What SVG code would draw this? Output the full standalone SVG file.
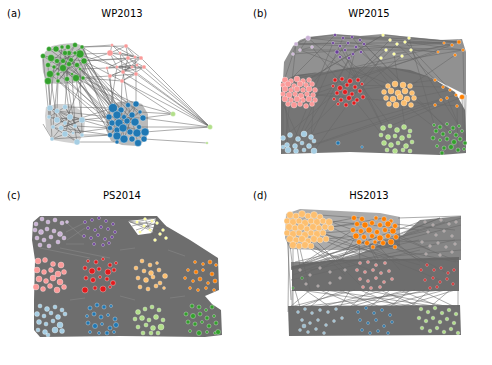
<svg xmlns="http://www.w3.org/2000/svg" width="492" height="365" viewBox="0 0 492 365">
<style>
.e{stroke:#666;stroke-width:0.6;fill:none;stroke-opacity:0.9}
.el{stroke:#8c8c8c;stroke-width:0.5;fill:none}
.d{fill:#666}
.t{font-family:"DejaVu Sans",sans-serif;font-size:10px;fill:#000}
circle{stroke:#fff;stroke-width:0.4;stroke-opacity:0.8}
.lb{fill:#a6cee3}.b{fill:#1f78b4}.lg{fill:#b2df8a}.g{fill:#33a02c}.pk{fill:#fb9a99}.r{fill:#e31a1c}.lo{fill:#fdbf6f}.o{fill:#ff7f00}.lp{fill:#cab2d6}.p{fill:#6a3d9a}.y{fill:#ffff99}.gy{fill:#a89a9a}
</style>
<rect width="492" height="365" fill="#fff"/>
<g id="labels">
<text class="t" x="7" y="16.5">(a)</text>
<text class="t" x="122" y="16.5" text-anchor="middle">WP2013</text>
<text class="t" x="253" y="16.5">(b)</text>
<text class="t" x="369" y="16.5" text-anchor="middle">WP2015</text>
<text class="t" x="7" y="198.5">(c)</text>
<text class="t" x="122" y="198.5" text-anchor="middle">PS2014</text>
<text class="t" x="253" y="198.5">(d)</text>
<text class="t" x="369" y="198.5" text-anchor="middle">HS2013</text>
</g>
<g id="connectors">
<!-- panel a -->
<polygon class="d" opacity="0.4" points="45,52 52,46 62,44 74,43 84,46 87,56 86,68 84,79 74,83 60,84 47,83 43,72 42,60"/>
<polygon class="d" opacity="0.3" points="46,107 56,104 70,104 80,110 85,120 84,132 78,144 64,142 53,140 46,128 45,116"/>
<polygon class="d" opacity="0.45" points="109,106 118,102 132,101 142,104 148,114 148,130 146,140 137,146 122,145 111,141 106,130 107,116"/>
<path class="e" d="M49,49L75,53M56,49L80,69M62,47L58,74M68,47L48,65M75,45L63,68M82,47L54,67M43,56L84,61M51,58L77,65M57,61L80,54M63,61L48,81M69,53L67,79M71,60L50,74M80,54L58,81M84,61L72,74M48,65L83,78M54,67L76,78M63,68L82,47M69,64L49,49M77,65L56,49M80,69L62,47M50,74L75,45M58,74L84,61M67,79L65,53M76,78L51,58M83,78L57,61M48,81L71,60M58,81L80,54M72,74L43,56
M84,61L113,108M80,54L121,110M76,78L128,105M83,78L136,104M72,74L109,117M77,65L117,115M80,69L124,117M84,61L132,115M67,79L112,123M63,68L119,123M58,81L110,128M69,64L127,121M75,53L117,130M82,47L123,128M71,60L110,135M76,78L117,136M80,69L140,112M63,61L113,108M58,74L109,117M50,74L112,123M83,78L130,132M84,61L143,118M72,74L124,139M65,53L121,110M77,65L135,122M82,47L117,115M80,54L110,128M84,61L119,123
M48,81L50,108M58,81L57,111M67,79L65,107M54,67L49,117M76,78L82,120M50,74L57,120M63,68L70,117M72,74L75,126M83,78L65,123M58,74L53,127M48,65L52,139M80,69L82,135M43,56L49,117M67,79L77,142
M84,61L110,53M82,47L112,45M80,54L120,53M84,61L128,58M75,53L117,67M83,78L122,81M76,78L110,76M80,69L107,68M82,47L126,46M84,61L141,58
M110,53L126,46M112,45L120,53M120,53L135,57M126,46L141,58M128,58L144,67M117,67L136,74M110,76L132,67M123,72L141,58M107,68L137,65M122,81L128,58M110,53L117,67M120,53L123,72M135,57L136,74M144,67L122,81M132,67L110,76M137,65L117,67M126,46L128,58M110,53L141,58M107,68L144,67M112,45L135,57M123,72L144,67M117,67L141,58M120,53L132,67M107,68L128,58M110,76L136,74M122,81L136,74M112,45L110,53M126,46L135,57M120,53L141,58M117,67L144,67M123,72L137,65
M110,53L210,127M128,58L210,127M144,67L210,127M136,74L210,127M141,58L210,127M122,81L173,114M84,61L210,127M82,47L210,127
M110,76L113,108M122,81L121,110M117,67L109,117M136,74L136,104M123,72L128,105M107,68L117,115
M143,118L173,114M140,112L173,114M145,132L210,127M144,139L207,143M139,127L210,127M136,104L173,114M143,118L210,127
M50,108L70,117M57,111L65,123M65,107L49,117M70,117L53,127M49,117L82,120M57,120L75,126M65,123L82,135M82,120L61,128M53,127L73,133M61,128L77,142M65,134L52,139M75,126L57,111M73,133L50,108M82,135L65,107M57,120L70,117M61,128L82,120M52,139L65,123M43,124L52,139M50,108L82,120M49,117L75,126M65,107L82,135M53,127L77,142M70,117L65,134
M82,120L109,117M75,126L110,128M65,107L113,108M70,117L112,123M82,135L110,135M77,142L117,142M73,133L110,128M57,111L109,117M61,128L110,135M82,120L117,130M65,123L113,108M52,139L110,135
M113,108L135,122M121,110L110,128M128,105L117,136M136,104L124,139M109,117L143,118M117,115L139,127M124,117L110,135M132,115L117,142M140,112L119,123M112,123L145,132M119,123L137,133M127,121L132,139M135,122L112,123M123,128L144,139M130,132L113,108M117,130L140,112M110,135L136,104M124,139L121,110M138,143L128,105"/>
<!-- panel b -->
<polygon class="d" opacity="0.72" points="293,46 300,40 308,37 335,34 360,36 383,34 409,37 440,40 462,39 466,52 466,95 432,78 380,66 320,72 283,80 284,62"/>
<polygon class="d" opacity="0.9" points="281,82 296,75 320,72 350,68 380,66 410,70 432,78 455,92 465,110 466,135 466,153 440,155 410,154 350,152 281,154 281,120"/>
<path class="e" d="M335,35L285,85M343,38L298,139M352,37L400,97M360,40L450,132M333,43L290,150M340,46L383,128M348,43L303,94M356,47L345,92M364,44L412,93M337,52L443,134M345,50L388,137M353,54L295,146M361,52L460,139M340,57L410,151M349,58L304,150
M383,35L291,90M390,40L337,93M397,44L304,134M405,42L455,95M411,50L462,131M386,50L283,138M394,54L405,127M402,56L349,98M381,58L314,151M409,38L436,131M383,35L300,84M397,44L443,87
M308,38L358,80M296,44L285,147M300,50L412,93M312,47L395,151M293,54L283,84M308,38L438,52M296,44L459,42
M459,42L335,35M452,45L394,54M444,43L352,37M463,50L405,42M455,55L410,86M438,52L315,89M459,42L383,35M463,50L465,143M452,45L298,100
M435,80L288,99M443,87L347,85M450,90L407,99M456,95L298,139M462,97L390,126M441,100L309,146M435,105L296,151M457,106L303,94M447,98L459,126
M293,54L459,42M308,38L409,38M296,44L463,50M285,80L463,50M283,84L459,42M300,50L411,50M343,38L444,43
M283,84L283,138M285,89L288,150M283,94L290,135M315,89L311,137M283,104L304,150M466,95L465,143M462,97L464,149M457,106L458,150
M308,38L300,50M308,38L296,44M296,44L293,54M312,47L300,50M308,38L335,35M296,44L333,43M409,38L459,42M411,50L438,52M405,42L452,45M397,44L444,43"/>
<!-- panel c -->
<polygon class="d" opacity="0.95" points="33,222 40,216 110,216 157,216 166,226 190,240 218,258 219,290 205,296 212,304 221,310 222,335 205,337 120,336 40,337 34,330 34,300 35,260 32,240"/>
<polygon fill="#fff" points="128,221 156,218 152,233 138,235"/>
<path class="e" d="M128,221L166,226M130,222L163,230M135,222L156,218M140,232L157,218M128,221L150,230M145,219L155,240M137,222L160,234M120,218L157,218M132,226L152,221M136,230L157,223"/>
<path class="el" d="M68,224L84,238M66,232L86,222M67,240L85,228M40,248L90,258M60,248L110,258M70,300L85,298M120,296L135,300M170,298L185,296M120,250L135,248M168,250L185,256M66,244L84,244"/>
<!-- panel d -->
<polygon class="d" opacity="0.55" points="286,214 300,209 340,211 380,213 400,217 400,246 360,250 320,250 290,249 285,238"/>
<polygon class="d" opacity="0.8" points="291,270 356,255 403,235 420,220 461,216 461,260 291,262"/>
<polygon class="d" opacity="0.95" points="292,266 330,260 400,259 459,257 459,291 292,291"/>
<polygon class="d" opacity="0.95" points="288,306 460,305 461,335 289,336"/>
<path class="e" d="M333,222L354,218M331,227L357,224M329,221L353,230M326,239L356,236M320,215L362,218M323,233L361,230M331,227L384,218M398,218L461,216M396,236L440,218M395,224L455,230M391,242L461,240M388,230L430,250
M290,245L292,262M293,245L293,310M296,239L300,268M305,245L330,262M311,245L350,265M320,239L380,262M326,239L420,265M299,245L310,290M287,233L291,300M289,227L288,312M331,227L400,262M323,233L440,280M314,239L360,285M308,239L345,275M305,245L370,270M317,233L456,262M329,221L419,230
M359,242L360,262M367,242L380,268M375,242L400,270M383,242L430,265M391,242L450,275M356,236L340,262M364,242L320,270M373,247L300,275M395,236L459,262M388,236L420,262M380,236L310,262M369,230L295,268M353,230L305,262M361,230L380,262
M295,290L300,307M305,290L330,307M310,290L290,307M320,290L360,307M330,290L310,307M340,290L380,307M350,290L340,307M360,290L400,307M370,290L350,307M380,290L420,307M390,290L370,307M400,290L440,307M410,290L390,307M420,290L455,307M430,290L410,307M440,290L300,307M450,290L430,307M458,290L458,307M300,290L420,307M325,290L440,307M345,290L300,307M365,290L450,307M385,290L320,307M405,290L350,307M425,290L360,307M445,290L380,307M355,290L290,307M415,290L330,307M292,290L292,307M455,290L400,307
M291,268L419,222M293,275L440,218M300,266L461,225M310,270L455,240M295,262L430,230M320,262L461,218M340,258L419,240M291,280L420,250M305,265L445,222M350,260L461,250"/>
</g>
<g id="panel-a-nodes">
<g id="a-green" class="g">
<circle cx="43" cy="56" r="2.5"/><circle cx="49" cy="49" r="2.5"/><circle cx="56" cy="49" r="3"/><circle cx="62" cy="47" r="2"/><circle cx="68" cy="47" r="2.5"/><circle cx="75" cy="45" r="2.5"/><circle cx="82" cy="47" r="2"/><circle cx="80" cy="54" r="4"/><circle cx="51" cy="58" r="3.5"/><circle cx="57" cy="61" r="2.5"/><circle cx="63" cy="61" r="2.5"/><circle cx="69" cy="53" r="2.5"/><circle cx="75" cy="53" r="2"/><circle cx="71" cy="60" r="2.5"/><circle cx="84" cy="61" r="3"/><circle cx="48" cy="65" r="2.5"/><circle cx="54" cy="67" r="2"/><circle cx="63" cy="68" r="3.5"/><circle cx="69" cy="64" r="2.5"/><circle cx="77" cy="65" r="2.5"/><circle cx="80" cy="69" r="1.5"/><circle cx="50" cy="74" r="3.5"/><circle cx="58" cy="74" r="2"/><circle cx="67" cy="79" r="2.5"/><circle cx="76" cy="78" r="3.5"/><circle cx="83" cy="78" r="2"/><circle cx="48" cy="81" r="3.5"/><circle cx="58" cy="81" r="2"/><circle cx="72" cy="74" r="1.5"/><circle cx="65" cy="53" r="2.5"/>
</g>
<g id="a-pink" class="pk">
<circle cx="110" cy="53" r="3"/><circle cx="112" cy="45" r="1.5"/><circle cx="126" cy="46" r="2"/><circle cx="120" cy="53" r="1.5"/><circle cx="128" cy="58" r="2"/><circle cx="135" cy="57" r="1.5"/><circle cx="141" cy="58" r="2"/><circle cx="144" cy="67" r="2"/><circle cx="136" cy="74" r="2"/><circle cx="123" cy="72" r="2"/><circle cx="117" cy="67" r="1.5"/><circle cx="110" cy="76" r="2"/><circle cx="122" cy="81" r="2"/><circle cx="107" cy="68" r="1.5"/><circle cx="132" cy="67" r="1.5"/><circle cx="137" cy="65" r="1.5"/>
</g>
<g id="a-lightblue" class="lb">
<circle cx="50" cy="108" r="3"/><circle cx="57" cy="111" r="2.5"/><circle cx="65" cy="107" r="2.5"/><circle cx="70" cy="117" r="3"/><circle cx="49" cy="117" r="2"/><circle cx="57" cy="120" r="3"/><circle cx="65" cy="123" r="2"/><circle cx="82" cy="120" r="3"/><circle cx="75" cy="126" r="2"/><circle cx="53" cy="127" r="2"/><circle cx="61" cy="128" r="2.5"/><circle cx="65" cy="134" r="3"/><circle cx="52" cy="139" r="2"/><circle cx="77" cy="142" r="3"/><circle cx="82" cy="135" r="2"/><circle cx="73" cy="133" r="1.5"/>
</g>
<g id="a-blue" class="b">
<circle cx="113" cy="108" r="4.5"/><circle cx="121" cy="110" r="3"/><circle cx="128" cy="105" r="2.5"/><circle cx="136" cy="104" r="3"/><circle cx="109" cy="117" r="3"/><circle cx="117" cy="115" r="4"/><circle cx="124" cy="117" r="2.5"/><circle cx="132" cy="115" r="3"/><circle cx="140" cy="112" r="2"/><circle cx="143" cy="118" r="3"/><circle cx="112" cy="123" r="3"/><circle cx="119" cy="123" r="4"/><circle cx="127" cy="121" r="3"/><circle cx="135" cy="122" r="4"/><circle cx="139" cy="127" r="2.5"/><circle cx="110" cy="128" r="2.5"/><circle cx="117" cy="130" r="3"/><circle cx="123" cy="128" r="4"/><circle cx="130" cy="132" r="3"/><circle cx="137" cy="133" r="4"/><circle cx="145" cy="132" r="4"/><circle cx="110" cy="135" r="2.5"/><circle cx="117" cy="136" r="4"/><circle cx="124" cy="139" r="4"/><circle cx="132" cy="139" r="3"/><circle cx="138" cy="143" r="3.5"/><circle cx="144" cy="139" r="3"/><circle cx="117" cy="142" r="2"/>
</g>
<g id="a-lightgreen" class="lg">
<circle cx="173" cy="114" r="2.5"/><circle cx="210" cy="127" r="2.5"/><circle cx="207" cy="143" r="1.3"/>
</g>
</g>
<g id="panel-b-nodes">
<g id="b-pink" class="pk">
<circle cx="285" cy="80" r="3"/><circle cx="291" cy="81" r="2.5"/><circle cx="297" cy="79" r="3"/><circle cx="303" cy="81" r="2.5"/><circle cx="309" cy="80" r="2.5"/>
<circle cx="283" cy="85" r="2.5"/><circle cx="288" cy="84" r="3"/><circle cx="294" cy="86" r="2.5"/><circle cx="300" cy="84" r="3"/><circle cx="306" cy="85" r="2.5"/><circle cx="312" cy="84" r="2.5"/>
<circle cx="285" cy="89" r="3"/><circle cx="291" cy="90" r="2.5"/><circle cx="297" cy="89" r="3"/><circle cx="303" cy="90" r="2.5"/><circle cx="309" cy="89" r="3"/><circle cx="315" cy="90" r="2.5"/>
<circle cx="283" cy="94" r="2.5"/><circle cx="289" cy="95" r="3"/><circle cx="295" cy="94" r="2.5"/><circle cx="301" cy="96" r="3"/><circle cx="307" cy="94" r="2.5"/><circle cx="313" cy="95" r="2.5"/>
<circle cx="285" cy="99" r="3"/><circle cx="291" cy="100" r="2.5"/><circle cx="297" cy="99" r="3"/><circle cx="303" cy="100" r="2.5"/><circle cx="309" cy="99" r="3"/><circle cx="315" cy="100" r="2.5"/>
<circle cx="288" cy="104" r="2.5"/><circle cx="294" cy="105" r="3"/><circle cx="300" cy="104" r="2.5"/><circle cx="306" cy="106" r="2.5"/><circle cx="312" cy="104" r="2.5"/>
</g>
<g id="b-red" class="r">
<circle cx="335" cy="80" r="2"/><circle cx="342" cy="79" r="2"/><circle cx="350" cy="81" r="2.5"/><circle cx="358" cy="80" r="2"/><circle cx="333" cy="86" r="1.5"/><circle cx="340" cy="88" r="2.5"/><circle cx="347" cy="85" r="2"/><circle cx="355" cy="87" r="2"/><circle cx="362" cy="84" r="1.5"/><circle cx="337" cy="93" r="2"/><circle cx="345" cy="92" r="2.5"/><circle cx="352" cy="94" r="2"/><circle cx="360" cy="91" r="2"/><circle cx="334" cy="99" r="1.5"/><circle cx="341" cy="100" r="2"/><circle cx="349" cy="98" r="2.5"/><circle cx="357" cy="100" r="2"/><circle cx="363" cy="97" r="2"/><circle cx="338" cy="104" r="1.5"/><circle cx="346" cy="105" r="2"/><circle cx="354" cy="103" r="2"/>
</g>
<g id="b-lightorange" class="lo">
<circle cx="388" cy="86" r="2.5"/><circle cx="395" cy="84" r="3"/><circle cx="403" cy="85" r="3"/><circle cx="410" cy="86" r="2.5"/><circle cx="384" cy="92" r="2.5"/><circle cx="391" cy="91" r="3"/><circle cx="398" cy="93" r="3"/><circle cx="405" cy="91" r="3"/><circle cx="412" cy="93" r="2.5"/><circle cx="386" cy="98" r="2.5"/><circle cx="393" cy="99" r="3"/><circle cx="400" cy="97" r="3"/><circle cx="407" cy="99" r="3"/><circle cx="414" cy="98" r="2.5"/><circle cx="389" cy="104" r="2.5"/><circle cx="396" cy="105" r="3"/><circle cx="404" cy="103" r="3"/><circle cx="411" cy="105" r="2.5"/>
</g>
<g id="b-lightblue" class="lb">
<circle cx="283" cy="138" r="2.5"/><circle cx="290" cy="135" r="2.5"/><circle cx="298" cy="139" r="2.5"/><circle cx="304" cy="134" r="3"/><circle cx="311" cy="137" r="2.5"/><circle cx="287" cy="145" r="2.5"/><circle cx="295" cy="146" r="2.5"/><circle cx="302" cy="143" r="2"/><circle cx="309" cy="146" r="2.5"/><circle cx="314" cy="141" r="2"/><circle cx="288" cy="150" r="3"/><circle cx="296" cy="151" r="2.5"/><circle cx="304" cy="150" r="2"/><circle cx="314" cy="151" r="3"/><circle cx="283" cy="147" r="2"/>
</g>
<g id="b-blue" class="b"><circle cx="338" cy="143" r="2"/><circle cx="362" cy="147" r="1.3"/></g>
<g id="b-lightgreen" class="lg">
<circle cx="383" cy="128" r="2.5"/><circle cx="390" cy="126" r="2"/><circle cx="397" cy="130" r="2.5"/><circle cx="404" cy="127" r="2.5"/><circle cx="410" cy="131" r="2"/><circle cx="381" cy="135" r="2"/><circle cx="388" cy="137" r="2.5"/><circle cx="395" cy="136" r="2"/><circle cx="402" cy="138" r="2.5"/><circle cx="409" cy="136" r="2"/><circle cx="384" cy="143" r="2.5"/><circle cx="391" cy="145" r="2.5"/><circle cx="398" cy="143" r="2"/><circle cx="406" cy="146" r="2.5"/><circle cx="412" cy="142" r="2"/><circle cx="387" cy="150" r="2"/><circle cx="395" cy="151" r="2.5"/><circle cx="403" cy="150" r="2"/><circle cx="410" cy="151" r="2"/>
</g>
<g id="b-green" class="g">
<circle cx="434" cy="125" r="1.5"/><circle cx="440" cy="127" r="2"/><circle cx="447" cy="124" r="1.5"/><circle cx="453" cy="128" r="2"/><circle cx="459" cy="126" r="1.5"/><circle cx="436" cy="131" r="2"/><circle cx="443" cy="134" r="2"/><circle cx="450" cy="132" r="1.5"/><circle cx="456" cy="135" r="2"/><circle cx="462" cy="131" r="1.5"/><circle cx="433" cy="138" r="2"/><circle cx="440" cy="140" r="1.5"/><circle cx="447" cy="139" r="2"/><circle cx="454" cy="142" r="2.5"/><circle cx="460" cy="139" r="2"/><circle cx="465" cy="143" r="2"/><circle cx="437" cy="146" r="1.5"/><circle cx="444" cy="148" r="2"/><circle cx="451" cy="147" r="2.5"/><circle cx="458" cy="150" r="2"/><circle cx="464" cy="149" r="1.5"/><circle cx="442" cy="153" r="2"/>
</g>
<g id="b-purple" class="p">
<circle cx="335" cy="35" r="1.5"/><circle cx="343" cy="38" r="1.5"/><circle cx="352" cy="37" r="1.5"/><circle cx="360" cy="40" r="1.5"/><circle cx="333" cy="43" r="1.5"/><circle cx="340" cy="46" r="1.5"/><circle cx="348" cy="43" r="1.5"/><circle cx="356" cy="47" r="1.5"/><circle cx="364" cy="44" r="1.5"/><circle cx="337" cy="52" r="2"/><circle cx="345" cy="50" r="1.5"/><circle cx="353" cy="54" r="1.5"/><circle cx="361" cy="52" r="1.5"/><circle cx="340" cy="57" r="1.5"/><circle cx="349" cy="58" r="1.5"/>
</g>
<g id="b-lightpurple" class="lp"><circle cx="308" cy="38" r="2.5"/><circle cx="296" cy="44" r="2"/><circle cx="300" cy="50" r="1.5"/><circle cx="312" cy="47" r="1.5"/><circle cx="293" cy="54" r="1.5"/></g>
<g id="b-yellow" class="y">
<circle cx="383" cy="35" r="1.5"/><circle cx="390" cy="40" r="1.5"/><circle cx="397" cy="44" r="1.5"/><circle cx="405" cy="42" r="1.5"/><circle cx="411" cy="50" r="1.5"/><circle cx="386" cy="50" r="1.5"/><circle cx="394" cy="54" r="1.5"/><circle cx="402" cy="56" r="1.5"/><circle cx="381" cy="58" r="1.5"/><circle cx="409" cy="38" r="1.5"/>
</g>
<g id="b-orange" class="o">
<circle cx="459" cy="42" r="2"/><circle cx="452" cy="45" r="1.5"/><circle cx="444" cy="43" r="1.3"/><circle cx="463" cy="50" r="1.5"/><circle cx="455" cy="55" r="1.5"/><circle cx="438" cy="52" r="1.3"/><circle cx="435" cy="80" r="1.5"/><circle cx="443" cy="87" r="1.5"/><circle cx="450" cy="90" r="1.5"/><circle cx="456" cy="95" r="1.5"/><circle cx="462" cy="97" r="2.5"/><circle cx="441" cy="100" r="1.5"/><circle cx="435" cy="105" r="1.5"/><circle cx="457" cy="106" r="1.5"/><circle cx="447" cy="98" r="1.5"/>
</g>
</g>
<g id="panel-c-nodes">
<g id="c-lightpurple" class="lp">
<circle cx="36" cy="224" r="2"/><circle cx="42" cy="219" r="2"/><circle cx="48" cy="222" r="2"/><circle cx="55" cy="220" r="2"/><circle cx="62" cy="223" r="2"/><circle cx="35" cy="230" r="2"/><circle cx="41" cy="232" r="2.5"/><circle cx="47" cy="229" r="2"/><circle cx="54" cy="231" r="2"/><circle cx="60" cy="234" r="2.5"/><circle cx="37" cy="238" r="2"/><circle cx="44" cy="240" r="2"/><circle cx="51" cy="237" r="2"/><circle cx="58" cy="242" r="2"/><circle cx="64" cy="238" r="2"/><circle cx="40" cy="245" r="2"/><circle cx="49" cy="246" r="2"/><circle cx="67" cy="222" r="1.5"/>
</g>
<g id="c-purple" class="p">
<circle cx="85" cy="222" r="1.5"/><circle cx="92" cy="220" r="1.5"/><circle cx="99" cy="218" r="1.5"/><circle cx="106" cy="221" r="1.5"/><circle cx="113" cy="224" r="1.5"/><circle cx="88" cy="228" r="1.5"/><circle cx="95" cy="230" r="1.5"/><circle cx="101" cy="227" r="1.5"/><circle cx="108" cy="229" r="1.5"/><circle cx="115" cy="232" r="1.5"/><circle cx="84" cy="236" r="1.5"/><circle cx="91" cy="238" r="1.5"/><circle cx="98" cy="235" r="1.5"/><circle cx="105" cy="239" r="1.5"/><circle cx="112" cy="237" r="1.5"/><circle cx="94" cy="244" r="1.5"/><circle cx="103" cy="245" r="1.5"/><circle cx="109" cy="243" r="1.5"/>
</g>
<g id="c-yellow" class="y">
<circle cx="137" cy="222" r="1.5"/><circle cx="144" cy="226" r="1.5"/><circle cx="150" cy="230" r="1.5"/><circle cx="157" cy="223" r="1.5"/><circle cx="163" cy="230" r="1.5"/><circle cx="155" cy="240" r="1.5"/><circle cx="160" cy="234" r="1.5"/><circle cx="152" cy="221" r="1.5"/><circle cx="145" cy="219" r="1.5"/><circle cx="140" cy="232" r="1.5"/><circle cx="166" cy="238" r="1.5"/>
</g>
<g id="c-pink" class="pk">
<circle cx="38" cy="261" r="3"/><circle cx="45" cy="260" r="2.5"/><circle cx="53" cy="264" r="2.5"/><circle cx="61" cy="265" r="3"/><circle cx="37" cy="270" r="3"/><circle cx="44" cy="272" r="2.5"/><circle cx="51" cy="270" r="2.5"/><circle cx="58" cy="274" r="3"/><circle cx="64" cy="272" r="2.5"/><circle cx="39" cy="279" r="3"/><circle cx="46" cy="281" r="2.5"/><circle cx="53" cy="278" r="3"/><circle cx="60" cy="282" r="3"/><circle cx="36" cy="287" r="3"/><circle cx="43" cy="289" r="2.5"/><circle cx="50" cy="286" r="2.5"/><circle cx="57" cy="290" r="3"/><circle cx="64" cy="287" r="2.5"/>
</g>
<g id="c-red" class="r">
<circle cx="88" cy="261" r="1.5"/><circle cx="96" cy="262" r="2"/><circle cx="103" cy="259" r="1.5"/><circle cx="110" cy="265" r="2"/><circle cx="116" cy="263" r="1.5"/><circle cx="85" cy="268" r="2"/><circle cx="92" cy="271" r="3"/><circle cx="99" cy="269" r="2"/><circle cx="108" cy="272" r="3"/><circle cx="114" cy="270" r="2"/><circle cx="86" cy="278" r="2"/><circle cx="93" cy="280" r="2.5"/><circle cx="100" cy="277" r="1.5"/><circle cx="107" cy="279" r="2"/><circle cx="113" cy="283" r="2.5"/><circle cx="85" cy="290" r="3"/><circle cx="95" cy="288" r="2"/><circle cx="103" cy="289" r="3"/><circle cx="110" cy="287" r="1.5"/>
</g>
<g id="c-lightorange" class="lo">
<circle cx="142" cy="261" r="2"/><circle cx="150" cy="265" r="2"/><circle cx="157" cy="263" r="1.5"/><circle cx="136" cy="268" r="2"/><circle cx="144" cy="271" r="2"/><circle cx="151" cy="273" r="2.5"/><circle cx="159" cy="270" r="2"/><circle cx="165" cy="276" r="2.5"/><circle cx="138" cy="278" r="2"/><circle cx="146" cy="280" r="2.5"/><circle cx="153" cy="277" r="2"/><circle cx="160" cy="283" r="2"/><circle cx="140" cy="287" r="2"/><circle cx="148" cy="289" r="2"/><circle cx="156" cy="286" r="2"/><circle cx="164" cy="288" r="1.5"/>
</g>
<g id="c-orange" class="o">
<circle cx="195" cy="262" r="1.5"/><circle cx="203" cy="264" r="1.5"/><circle cx="210" cy="262" r="2"/><circle cx="216" cy="265" r="1.5"/><circle cx="188" cy="270" r="1.5"/><circle cx="196" cy="272" r="2"/><circle cx="203" cy="270" r="1.5"/><circle cx="212" cy="274" r="2"/><circle cx="185" cy="278" r="1.5"/><circle cx="193" cy="281" r="1.5"/><circle cx="200" cy="279" r="2"/><circle cx="208" cy="283" r="1.5"/><circle cx="215" cy="281" r="2"/><circle cx="190" cy="288" r="1.5"/><circle cx="198" cy="290" r="1.5"/><circle cx="206" cy="288" r="1.5"/><circle cx="214" cy="290" r="1.5"/>
</g>
<g id="c-lightblue" class="lb">
<circle cx="40" cy="306" r="2"/><circle cx="47" cy="309" r="2.5"/><circle cx="55" cy="307" r="2"/><circle cx="62" cy="310" r="2"/><circle cx="37" cy="314" r="2.5"/><circle cx="44" cy="316" r="2"/><circle cx="51" cy="313" r="2"/><circle cx="58" cy="317" r="2.5"/><circle cx="65" cy="314" r="2"/><circle cx="39" cy="322" r="2.5"/><circle cx="46" cy="324" r="2"/><circle cx="53" cy="321" r="2"/><circle cx="60" cy="325" r="3"/><circle cx="38" cy="330" r="2"/><circle cx="45" cy="332" r="2.5"/><circle cx="55" cy="330" r="3"/><circle cx="62" cy="331" r="2.5"/><circle cx="48" cy="335" r="2"/>
</g>
<g id="c-blue" class="b">
<circle cx="90" cy="308" r="2"/><circle cx="97" cy="305" r="2"/><circle cx="104" cy="307" r="2"/><circle cx="111" cy="306" r="1.5"/><circle cx="87" cy="316" r="1.5"/><circle cx="94" cy="314" r="2"/><circle cx="101" cy="317" r="2"/><circle cx="108" cy="315" r="1.5"/><circle cx="115" cy="319" r="2"/><circle cx="88" cy="323" r="2"/><circle cx="95" cy="326" r="2.5"/><circle cx="102" cy="324" r="1.5"/><circle cx="110" cy="328" r="2"/><circle cx="116" cy="325" r="2.5"/><circle cx="90" cy="332" r="1.5"/><circle cx="99" cy="333" r="1.5"/><circle cx="107" cy="333" r="2"/><circle cx="114" cy="332" r="1.5"/>
</g>
<g id="c-lightgreen" class="lg">
<circle cx="138" cy="312" r="2.5"/><circle cx="145" cy="309" r="2"/><circle cx="152" cy="307" r="2"/><circle cx="159" cy="310" r="2"/><circle cx="135" cy="319" r="2"/><circle cx="142" cy="318" r="2.5"/><circle cx="149" cy="320" r="2"/><circle cx="156" cy="317" r="2.5"/><circle cx="163" cy="320" r="2"/><circle cx="138" cy="327" r="2"/><circle cx="146" cy="325" r="2"/><circle cx="153" cy="328" r="2.5"/><circle cx="161" cy="327" r="3"/><circle cx="143" cy="333" r="2"/><circle cx="151" cy="333" r="2"/><circle cx="158" cy="333" r="2"/>
</g>
<g id="c-green" class="g">
<circle cx="192" cy="306" r="2"/><circle cx="199" cy="307" r="2"/><circle cx="206" cy="310" r="1.5"/><circle cx="212" cy="307" r="2"/><circle cx="186" cy="314" r="2"/><circle cx="193" cy="316" r="2.5"/><circle cx="200" cy="314" r="2"/><circle cx="207" cy="318" r="2"/><circle cx="214" cy="316" r="1.5"/><circle cx="188" cy="322" r="2"/><circle cx="195" cy="324" r="2"/><circle cx="202" cy="322" r="1.5"/><circle cx="209" cy="326" r="2"/><circle cx="216" cy="323" r="2"/><circle cx="190" cy="331" r="1.5"/><circle cx="199" cy="333" r="2.5"/><circle cx="207" cy="332" r="1.5"/><circle cx="215" cy="333" r="1.5"/><circle cx="218" cy="332" r="2.5"/>
</g>
</g>
<g id="panel-d-nodes">
<g id="d-lightorange" class="lo">
<circle cx="290" cy="215" r="3.5"/><circle cx="296" cy="216" r="3"/><circle cx="302" cy="214" r="3.5"/><circle cx="308" cy="216" r="3"/><circle cx="314" cy="215" r="3.5"/><circle cx="320" cy="217" r="3"/>
<circle cx="287" cy="221" r="3"/><circle cx="293" cy="222" r="3.5"/><circle cx="299" cy="221" r="3"/><circle cx="305" cy="223" r="3.5"/><circle cx="311" cy="221" r="3"/><circle cx="317" cy="222" r="3.5"/><circle cx="323" cy="221" r="3"/><circle cx="329" cy="222" r="3.5"/>
<circle cx="289" cy="227" r="3.5"/><circle cx="295" cy="228" r="3"/><circle cx="301" cy="227" r="3.5"/><circle cx="307" cy="229" r="3"/><circle cx="313" cy="227" r="3.5"/><circle cx="319" cy="228" r="3"/><circle cx="325" cy="227" r="3"/><circle cx="331" cy="228" r="3"/>
<circle cx="287" cy="233" r="3"/><circle cx="293" cy="234" r="3.5"/><circle cx="299" cy="233" r="3"/><circle cx="305" cy="235" r="3.5"/><circle cx="311" cy="233" r="3"/><circle cx="317" cy="234" r="3.5"/><circle cx="323" cy="233" r="3"/>
<circle cx="290" cy="239" r="3.5"/><circle cx="296" cy="240" r="3"/><circle cx="302" cy="239" r="3.5"/><circle cx="308" cy="241" r="3"/><circle cx="314" cy="239" r="3.5"/><circle cx="320" cy="240" r="3"/><circle cx="326" cy="239" r="3"/>
<circle cx="293" cy="245" r="3.5"/><circle cx="299" cy="246" r="3"/><circle cx="305" cy="245" r="3.5"/><circle cx="311" cy="246" r="3"/>
</g>
<g id="d-orange" class="o">
<circle cx="354" cy="218" r="2.5"/><circle cx="362" cy="219" r="2.5"/><circle cx="376" cy="218" r="2"/><circle cx="384" cy="219" r="2.5"/><circle cx="391" cy="221" r="2"/>
<circle cx="357" cy="224" r="2.5"/><circle cx="365" cy="225" r="3"/><circle cx="372" cy="223" r="2.5"/><circle cx="380" cy="225" r="2.5"/><circle cx="388" cy="224" r="3"/><circle cx="395" cy="226" r="2.5"/>
<circle cx="353" cy="230" r="2.5"/><circle cx="361" cy="231" r="2.5"/><circle cx="369" cy="230" r="3"/><circle cx="377" cy="232" r="2.5"/><circle cx="385" cy="230" r="2.5"/><circle cx="393" cy="231" r="3"/>
<circle cx="356" cy="236" r="3"/><circle cx="364" cy="237" r="2.5"/><circle cx="372" cy="236" r="2.5"/><circle cx="380" cy="238" r="3"/><circle cx="388" cy="236" r="2.5"/><circle cx="396" cy="237" r="2.5"/>
<circle cx="359" cy="242" r="2.5"/><circle cx="367" cy="243" r="2.5"/><circle cx="375" cy="242" r="2"/><circle cx="383" cy="243" r="2.5"/><circle cx="391" cy="242" r="3"/><circle cx="373" cy="247" r="2"/><circle cx="395" cy="247" r="2"/>
</g>
<g id="d-grey" class="gy" opacity="0.85">
<circle cx="425" cy="222" r="1.3"/><circle cx="433" cy="225" r="1.3"/><circle cx="441" cy="220" r="1.3"/><circle cx="449" cy="224" r="1.3"/><circle cx="456" cy="222" r="1.3"/><circle cx="428" cy="232" r="1.3"/><circle cx="436" cy="235" r="1.3"/><circle cx="444" cy="231" r="1.3"/><circle cx="452" cy="236" r="1.3"/><circle cx="422" cy="242" r="1.3"/><circle cx="430" cy="246" r="1.3"/><circle cx="438" cy="243" r="1.3"/><circle cx="446" cy="247" r="1.3"/><circle cx="455" cy="244" r="1.3"/><circle cx="426" cy="254" r="1.3"/><circle cx="440" cy="255" r="1.3"/><circle cx="452" cy="252" r="1.3"/>
<circle cx="300" cy="270" r="1.3"/><circle cx="310" cy="275" r="1.3"/><circle cx="320" cy="268" r="1.3"/><circle cx="330" cy="272" r="1.3"/><circle cx="340" cy="278" r="1.3"/><circle cx="306" cy="284" r="1.3"/><circle cx="318" cy="286" r="1.3"/><circle cx="330" cy="283" r="1.3"/><circle cx="345" cy="270" r="1.3"/>
</g>
<g id="d-green" class="g" opacity="0.7"><circle cx="302" cy="278" r="1.5"/><circle cx="293" cy="288" r="1.3"/></g>
<g id="d-pink" class="pk" opacity="0.8">
<circle cx="360" cy="263" r="1.6"/><circle cx="368" cy="262" r="1.6"/><circle cx="376" cy="265" r="1.6"/><circle cx="385" cy="263" r="1.6"/><circle cx="357" cy="270" r="1.6"/><circle cx="365" cy="272" r="1.6"/><circle cx="373" cy="270" r="1.6"/><circle cx="381" cy="273" r="1.6"/><circle cx="389" cy="271" r="1.6"/><circle cx="360" cy="279" r="1.6"/><circle cx="368" cy="281" r="1.6"/><circle cx="376" cy="278" r="1.6"/><circle cx="384" cy="282" r="1.6"/><circle cx="392" cy="279" r="1.6"/><circle cx="363" cy="287" r="1.6"/><circle cx="371" cy="288" r="1.6"/><circle cx="380" cy="287" r="1.6"/>
</g>
<g id="d-red" class="r" opacity="0.85">
<circle cx="421" cy="270" r="1.4"/><circle cx="427" cy="265" r="1.4"/><circle cx="434" cy="270" r="1.4"/><circle cx="441" cy="268" r="1.4"/><circle cx="448" cy="273" r="1.4"/><circle cx="454" cy="270" r="1.4"/><circle cx="425" cy="280" r="1.4"/><circle cx="433" cy="278" r="1.4"/><circle cx="440" cy="282" r="1.4"/><circle cx="447" cy="279" r="1.4"/><circle cx="453" cy="284" r="1.4"/><circle cx="430" cy="288" r="1.4"/><circle cx="437" cy="287" r="1.4"/>
</g>
<g id="d-lightblue" class="lb" opacity="0.85">
<circle cx="298" cy="312" r="1.5"/><circle cx="305" cy="309" r="1.5"/><circle cx="312" cy="313" r="1.5"/><circle cx="320" cy="310" r="1.5"/><circle cx="328" cy="312" r="1.5"/><circle cx="336" cy="309" r="1.5"/><circle cx="302" cy="320" r="1.5"/><circle cx="310" cy="323" r="1.5"/><circle cx="318" cy="320" r="1.5"/><circle cx="326" cy="325" r="1.5"/><circle cx="334" cy="321" r="1.5"/><circle cx="342" cy="318" r="1.5"/><circle cx="300" cy="330" r="1.5"/><circle cx="308" cy="332" r="1.5"/><circle cx="316" cy="329" r="1.5"/><circle cx="324" cy="333" r="1.5"/><circle cx="304" cy="326" r="2"/>
</g>
<g id="d-blue" class="b" opacity="0.85">
<circle cx="358" cy="312" r="1.5"/><circle cx="366" cy="308" r="1.5"/><circle cx="374" cy="313" r="1.5"/><circle cx="382" cy="310" r="1.5"/><circle cx="390" cy="315" r="1.5"/><circle cx="360" cy="320" r="1.5"/><circle cx="368" cy="323" r="1.5"/><circle cx="376" cy="320" r="1.5"/><circle cx="384" cy="326" r="1.5"/><circle cx="392" cy="322" r="1.5"/><circle cx="362" cy="330" r="1.5"/><circle cx="370" cy="333" r="1.5"/><circle cx="378" cy="331" r="1.5"/><circle cx="388" cy="333" r="1.5"/>
</g>
<g id="d-lightgreen" class="lg">
<circle cx="421" cy="309" r="1.8"/><circle cx="428" cy="312" r="1.8"/><circle cx="435" cy="308" r="1.8"/><circle cx="442" cy="313" r="1.8"/><circle cx="449" cy="310" r="1.8"/><circle cx="456" cy="314" r="1.8"/><circle cx="419" cy="318" r="1.8"/><circle cx="426" cy="321" r="1.8"/><circle cx="433" cy="318" r="1.8"/><circle cx="440" cy="322" r="1.8"/><circle cx="447" cy="319" r="1.8"/><circle cx="454" cy="323" r="1.8"/><circle cx="422" cy="328" r="1.8"/><circle cx="430" cy="331" r="1.8"/><circle cx="437" cy="328" r="1.8"/><circle cx="444" cy="332" r="1.8"/><circle cx="451" cy="329" r="1.8"/><circle cx="458" cy="333" r="1.8"/>
</g>
</g>
</svg>
